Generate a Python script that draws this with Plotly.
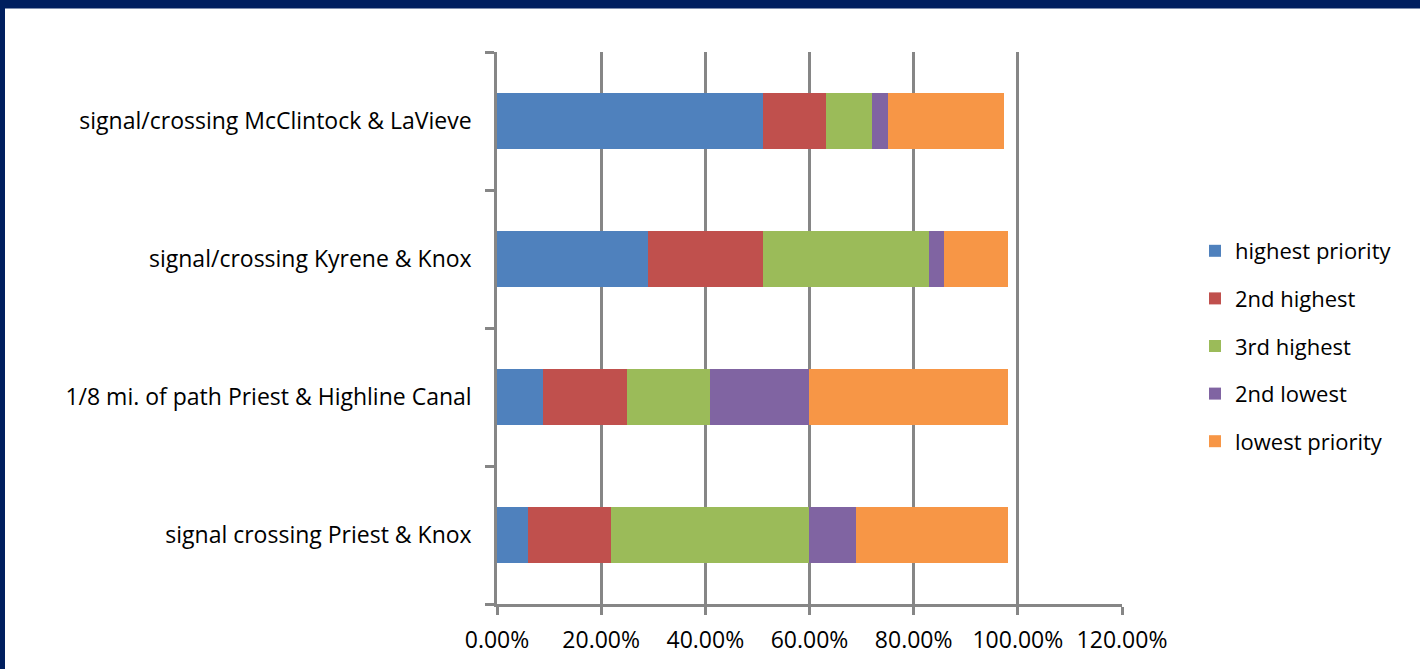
import plotly.graph_objects as go

categories = [
    "signal crossing Priest & Knox",
    "1/8 mi. of path Priest & Highline Canal",
    "signal/crossing Kyrene & Knox",
    "signal/crossing McClintock & LaVieve",
]
series_names = ["highest priority", "2nd highest", "3rd highest", "2nd lowest", "lowest priority"]
highest = [0.059, 0.089, 0.289, 0.510]
second_highest = [0.160, 0.160, 0.221, 0.121]
third_highest = [0.380, 0.160, 0.319, 0.089]
second_lowest = [0.091, 0.190, 0.030, 0.031]
lowest = [0.291, 0.382, 0.122, 0.222]
x_ticks = [0, 0.2, 0.4, 0.6, 0.8, 1.0, 1.2]
x_tick_labels = ["0.00%", "20.00%", "40.00%", "60.00%", "80.00%", "100.00%", "120.00%"]

colors = ["#4F81BD", "#C0504D", "#9BBB59", "#8064A2", "#F79646"]
values = [highest, second_highest, third_highest, second_lowest, lowest]

W, H = 1420, 669
L, R, T, B = 497, 1122, 52, 604

fig = go.Figure()
for name, vals, col in zip(series_names, values, colors):
    fig.add_trace(go.Bar(
        y=categories, x=vals, name=name, orientation="h",
        marker=dict(color=col, line=dict(width=0)),
        legendgroup=name,
    ))

font = "Open Sans, Noto Sans, sans-serif"
grid = "#868686"
fig.update_layout(
    width=W, height=H,
    margin=dict(l=L, r=W - R, t=T, b=H - B, pad=0),
    barmode="stack", bargap=0.6,
    paper_bgcolor="white", plot_bgcolor="white",
    font=dict(family=font, size=23, color="#000000"),
    showlegend=True,
    legend=dict(
        x=(1195 - L) / (R - L), xanchor="left",
        y=(B - 346) / (B - T), yanchor="middle",
        traceorder="grouped", tracegroupgap=16,
        font=dict(size=22), itemwidth=30,
    ),
    xaxis=dict(
        range=[0, 1.2], tickvals=x_ticks, ticktext=x_tick_labels,
        showgrid=True, gridcolor=grid, gridwidth=2.5,
        showline=True, linecolor=grid, linewidth=2.5,
        ticks="outside", ticklen=8, tickwidth=2.5, tickcolor=grid,
        zeroline=False, fixedrange=True, ticklabelstandoff=6,
    ),
    yaxis=dict(
        categoryorder="array", categoryarray=categories,
        showline=True, linecolor=grid, linewidth=2.5,
        ticks="outside", ticklen=9, tickwidth=2.5, tickcolor=grid,
        tickson="boundaries", showgrid=False,
        ticklabelstandoff=18,
    ),
    shapes=[
        dict(type="rect", xref="paper", yref="paper",
             x0=-L / (R - L), x1=(W - L) / (R - L),
             y0=(B - 0) / (B - T), y1=(B - 8.5) / (B - T),
             fillcolor="#001F5F", line=dict(width=0), layer="above"),
        dict(type="rect", xref="paper", yref="paper",
             x0=-L / (R - L), x1=(5 - L) / (R - L),
             y0=(B - H) / (B - T), y1=(B - 0) / (B - T),
             fillcolor="#001F5F", line=dict(width=0), layer="above"),
    ],
)

fig.write_html("out.html")
